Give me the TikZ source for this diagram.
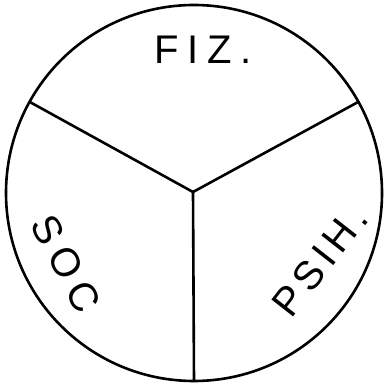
\documentclass[tikz,border=0pt]{standalone}
\usepackage{fontspec}
\setmainfont{Liberation Sans}
\newfontfamily\lettering[LetterSpace=22]{Liberation Sans}
\newfontfamily\tightlettering[LetterSpace=14]{Liberation Sans}
\usepackage{tikz}
\usetikzlibrary{positioning, calc}

\tikzset{
    sector/.style={line width=2.6pt, line cap=round},
    label text/.style={font={\lettering\fontsize{40}{40}\selectfont}, inner sep=0pt},
    tight text/.style={font={\tightlettering\fontsize{40}{40}\selectfont}, inner sep=0pt}
}

\begin{document}
\begin{tikzpicture}[x=1pt, y=1pt]

    % Fixed page size
    \useasboundingbox (0,0) rectangle (385,383);

    % Outer circle
    \node[draw, circle, line width=2.6pt, minimum size=376pt, inner sep=0pt, outer sep=0pt] (wheel) at (194,190) {};

    % Meeting point of the three dividing lines
    \coordinate (hub) at (193,191);

    % Dividing lines
    \draw[sector] (hub) -- (wheel.151.5);
    \draw[sector] (hub) -- (wheel.29.2);
    \draw[sector] (hub) -- (wheel.270);

    % Sector labels
    \node[label text] (fiz) at (203,333) {FIZ.};
    \node[label text, rotate=-62] (soc) at (66,119) {SOC};
    \node[tight text, rotate=52] (psih) at (320,122) {PSIH.};

\end{tikzpicture}
\end{document}
